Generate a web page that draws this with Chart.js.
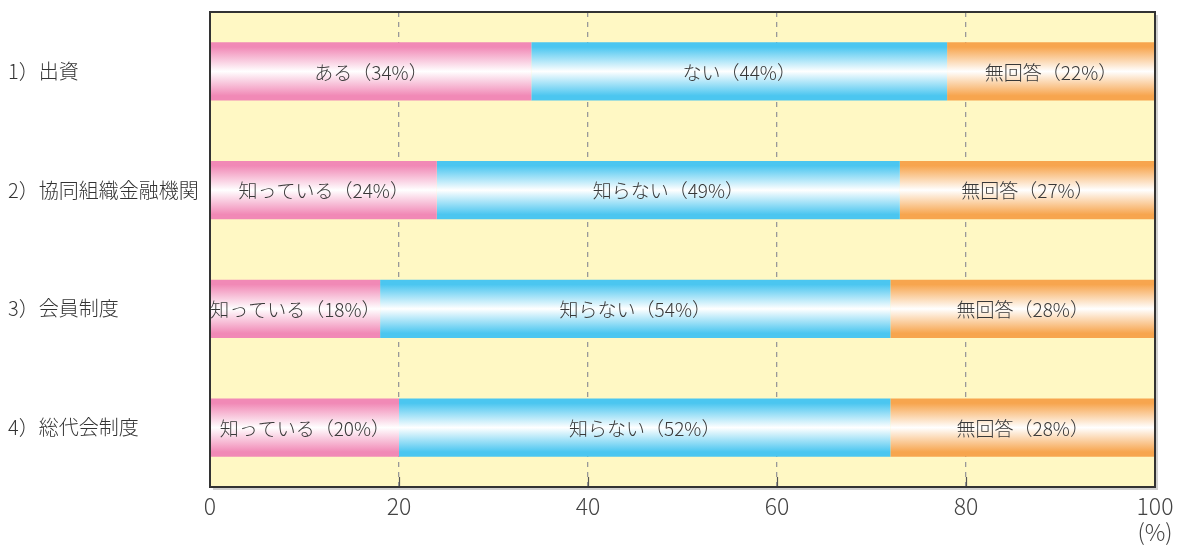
<!DOCTYPE html>
<html><head><meta charset="utf-8">
<script src="https://cdn.jsdelivr.net/npm/chart.js@4/dist/chart.umd.min.js"></script>
<style>html,body{margin:0;padding:0;background:#fff;}canvas{display:block;}</style>
</head><body>
<canvas id="c" width="1187" height="548"></canvas>
<script>
const categories = ['1）出資', '2）協同組織金融機関', '3）会員制度', '4）総代会制度'];
const seg1Values = [34, 24, 18, 20];
const seg2Values = [44, 49, 54, 52];
const seg3Values = [22, 27, 28, 28];
const seg1Names = ['ある', '知っている', '知っている', '知っている'];
const seg2Names = ['ない', '知らない', '知らない', '知らない'];
const seg3Names = ['無回答', '無回答', '無回答', '無回答'];
const xTicks = [0, 20, 40, 60, 80, 100];

const FONT = '"Noto Sans CJK JP", "Noto Sans", sans-serif';
const BAR_H = 58;

function grad(edge) {
  return (ctx) => {
    const chart = ctx.chart;
    if (!chart.chartArea || !chart.scales.y) return edge;
    const yc = chart.scales.y.getPixelForValue(ctx.dataIndex);
    const g = chart.ctx.createLinearGradient(0, yc - BAR_H / 2, 0, yc + BAR_H / 2);
    g.addColorStop(0, edge);
    g.addColorStop(0.08, edge);
    g.addColorStop(0.5, '#ffffff');
    g.addColorStop(0.92, edge);
    g.addColorStop(1, edge);
    return g;
  };
}

const bgPlugin = {
  id: 'bg',
  beforeDraw(chart) {
    const {ctx, chartArea: a} = chart;
    ctx.save();
    ctx.fillStyle = '#FFF8C4';
    ctx.fillRect(a.left, a.top, a.right - a.left, a.bottom - a.top);
    ctx.restore();
  },
  afterDatasetsDraw(chart) {
    const {ctx, chartArea: a} = chart;
    const xs = chart.scales.x;
    ctx.save();
    ctx.strokeStyle = '#555';
    ctx.lineWidth = 1.2;
    xTicks.forEach(v => {
      if (v === 0 || v === 100) return;
      const x = Math.round(xs.getPixelForValue(v)) + 0.5;
      ctx.beginPath(); ctx.moveTo(x, a.bottom - 10); ctx.lineTo(x, a.bottom); ctx.stroke();
    });
    ctx.strokeStyle = 'rgba(0,0,0,0.18)';
    ctx.lineWidth = 2;
    ctx.beginPath();
    ctx.moveTo(a.right + 2, a.top + 3); ctx.lineTo(a.right + 2, a.bottom + 2); ctx.lineTo(a.left + 3, a.bottom + 2);
    ctx.stroke();
    ctx.strokeStyle = '#333';
    ctx.lineWidth = 2;
    ctx.strokeRect(a.left, a.top, a.right - a.left, a.bottom - a.top);
    ctx.fillStyle = '#383838';
    ctx.font = '300 19px ' + FONT;
    ctx.textAlign = 'center';
    ctx.textBaseline = 'middle';
    const names = [seg1Names, seg2Names, seg3Names];
    chart.data.datasets.forEach((ds, di) => {
      const meta = chart.getDatasetMeta(di);
      meta.data.forEach((el, i) => {
        const cx = (el.x + el.base) / 2;
        ctx.fillText(names[di][i] + '（' + ds.data[i] + '%）', cx, el.y + 1);
      });
    });
    ctx.restore();
  }
};

new Chart(document.getElementById('c'), {
  type: 'bar',
  data: {
    labels: categories,
    datasets: [
      {label: 'seg1', data: seg1Values, backgroundColor: grad('#F189B6')},
      {label: 'seg2', data: seg2Values, backgroundColor: grad('#4BC6F0')},
      {label: 'seg3', data: seg3Values, backgroundColor: grad('#F7A54E')}
    ]
  },
  options: {
    indexAxis: 'y',
    responsive: false,
    animation: false,
    devicePixelRatio: 1,
    layout: {padding: {left: 8, right: 32, top: 11, bottom: 0}},
    datasets: {bar: {categoryPercentage: 0.49, barPercentage: 1, borderWidth: 0, borderSkipped: false}},
    plugins: {legend: {display: false}, tooltip: {enabled: false}},
    scales: {
      x: {
        stacked: true, min: 0, max: 100,
        afterBuildTicks: (s) => { s.ticks = xTicks.map(v => ({value: v})); },
        afterFit: (s) => { s.height = 61; s.paddingLeft = 0; s.paddingRight = 0; },
        border: {display: false, dash: [5, 5]},
        grid: {
          drawTicks: false,
          color: (c) => (c.tick && (c.tick.value === 0 || c.tick.value === 100)) ? 'rgba(0,0,0,0)' : '#999',
          lineWidth: 1.3
        },
        ticks: {
          padding: 7,
          color: '#444',
          font: {family: FONT, size: 23, weight: '300', lineHeight: 1.1},
          callback: (v) => v === 100 ? ['100', '(%)'] : String(v)
        }
      },
      y: {
        stacked: true,
        afterFit: (s) => { s.width = 202; },
        border: {display: false},
        grid: {display: false, drawTicks: false},
        ticks: {
          crossAlign: 'far',
          padding: 0,
          color: '#333',
          font: {family: FONT, size: 20, weight: '300'}
        }
      }
    }
  },
  plugins: [bgPlugin]
});
</script>
</body></html>
